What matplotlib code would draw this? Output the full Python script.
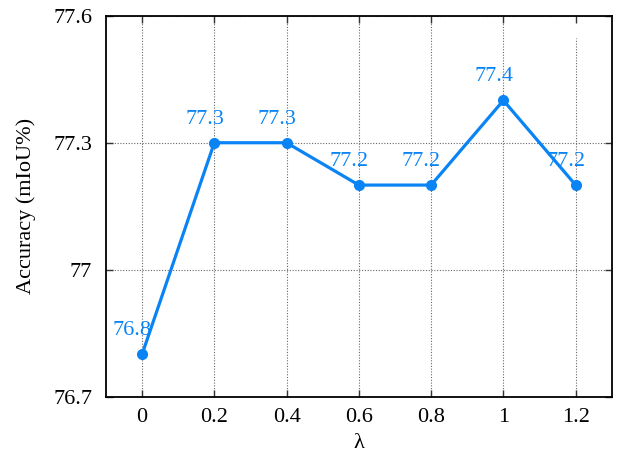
import matplotlib
matplotlib.use('Agg')
import matplotlib.pyplot as plt
import matplotlib.ticker as mticker

# data
lam = [0, 0.2, 0.4, 0.6, 0.8, 1.0, 1.2]
acc = [76.8, 77.3, 77.3, 77.2, 77.2, 77.4, 77.2]
x_ticks = [0, 0.2, 0.4, 0.6, 0.8, 1.0, 1.2]
y_ticks = [76.7, 77.0, 77.3, 77.6]

plt.rcParams['font.family'] = 'Liberation Serif'

blue = '#0a84f5'

fig = plt.figure(figsize=(6.23, 4.69), dpi=100)
ax = fig.add_axes([0.170, 0.154, 0.812, 0.8125])

ax.set_xlim(-0.1, 1.3)
ax.set_ylim(76.7, 77.6)

# dotted grid (x=1.2 stops a bit below the top, as in the original)
for xv in x_ticks:
    top = 77.547 if xv == 1.2 else 77.6
    ax.plot([xv, xv], [76.7, top], color='#666666', lw=0.8, ls=(0, (1, 1.5)), zorder=1)
for yv in y_ticks:
    ax.axhline(yv, color='#666666', lw=0.8, ls=(0, (1, 1.5)), zorder=1)

ax.plot(lam, acc, color=blue, lw=2.3, marker='o', markersize=7, zorder=3, clip_on=False)

for xv, yv in zip(lam, acc):
    ax.annotate(f'{yv:g}', (xv, yv), xytext=(-7, 17), textcoords='offset points',
                ha='center', va='center', color=blue, fontsize=16)

ax.set_xticks(x_ticks)
ax.set_yticks(y_ticks)
ax.xaxis.set_major_formatter(mticker.FormatStrFormatter('%g'))
ax.yaxis.set_major_formatter(mticker.FormatStrFormatter('%g'))
ax.tick_params(direction='in', length=5, width=1, labelsize=16,
               top=True, right=True, colors='#333333', labelcolor='black')
ax.tick_params(axis='x', pad=8)
ax.tick_params(axis='y', pad=10)

for s in ax.spines.values():
    s.set_linewidth(1.3)

ax.set_xlabel('λ', fontsize=16, labelpad=5)
ax.set_ylabel('Accuracy (mIoU%)', fontsize=16, labelpad=12)

fig.savefig('out.png', dpi=100)
